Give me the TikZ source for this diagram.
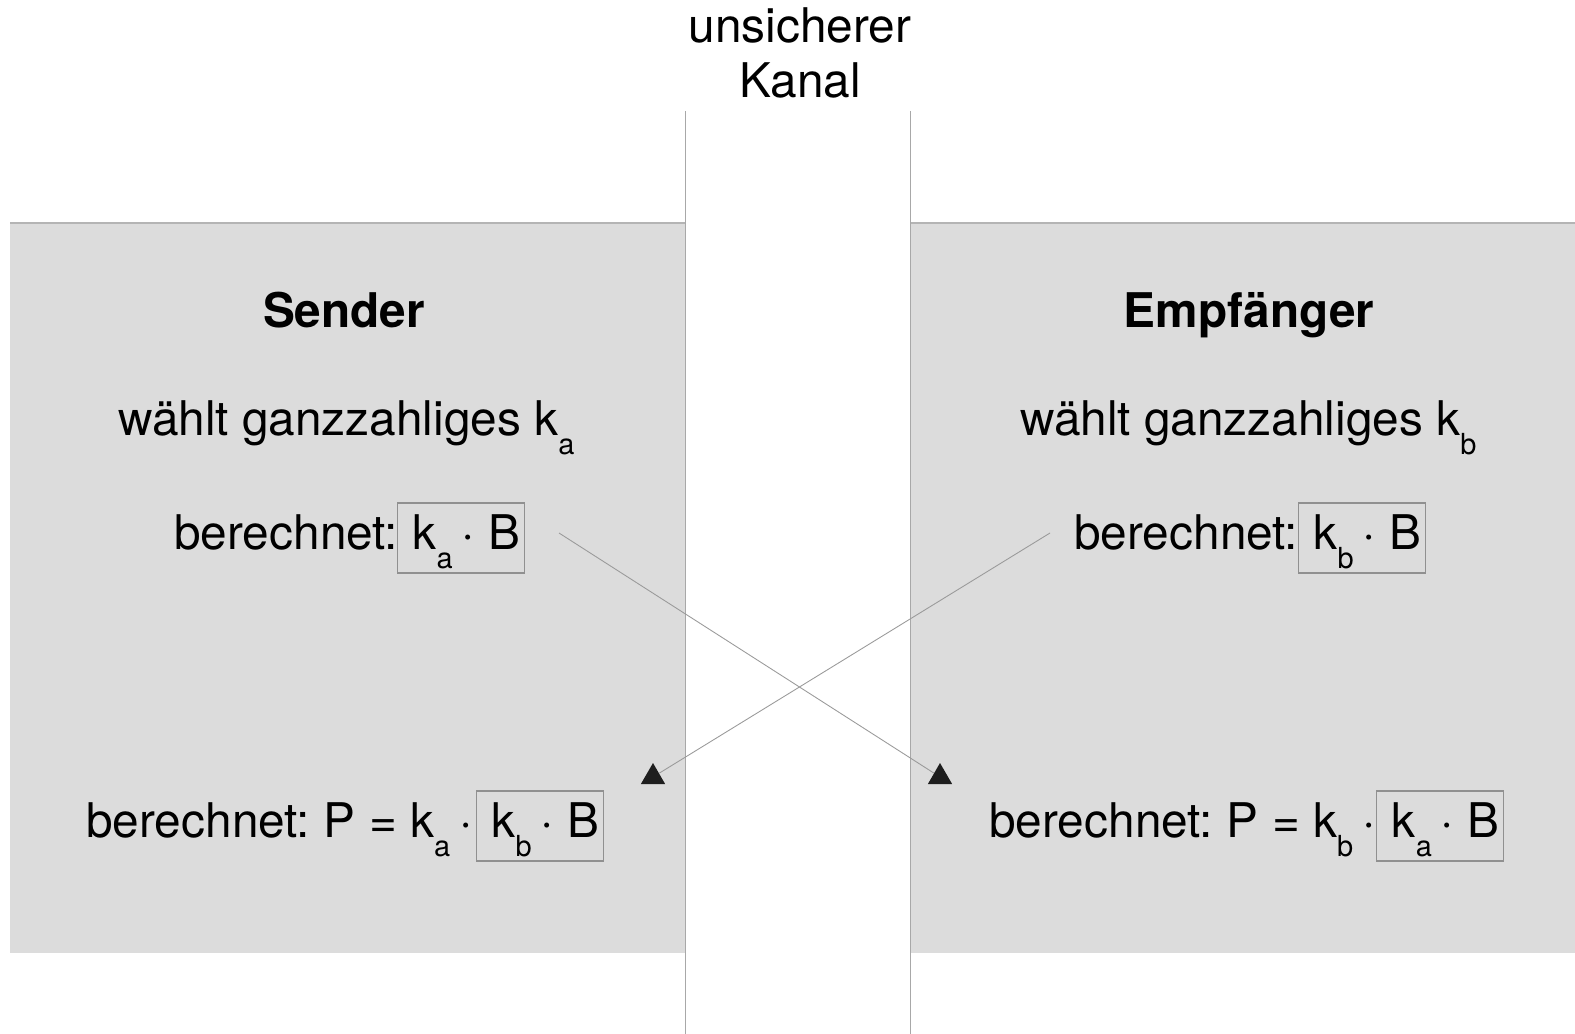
\documentclass[tikz,border=0pt]{standalone}
\usepackage{fontspec}
\setmainfont{TeX Gyre Heros}
\usepackage{tikz}
\usetikzlibrary{shapes,positioning}

\definecolor{panelgray}{HTML}{DCDCDC}
\definecolor{edgegray}{HTML}{B4B4B4}
\definecolor{changray}{HTML}{A8A8A8}
\definecolor{boxgray}{HTML}{909090}
\definecolor{wiregray}{HTML}{9A9A9A}
\definecolor{tipblack}{HTML}{1E1E1E}

\newcommand{\kidx}[1]{\raisebox{-11pt}{\fontsize{16.5}{16.5}\selectfont #1}\hspace{-2.5pt}}

\begin{document}
\begin{tikzpicture}[x=0.02cm, y=-0.02cm,
	txt/.style={font=\fontsize{27.2}{31}\selectfont, inner sep=0pt, anchor=base west},
	head/.style={font=\fontsize{27.2}{31}\selectfont\bfseries, inner sep=0pt, anchor=base},
	kbox/.style={txt, draw=boxgray, line width=0.6pt, minimum width=2.54cm,
		text height=0.92cm, text depth=0.48cm, execute at begin node=\hspace*{0.22cm}},
	tip/.style={regular polygon, regular polygon sides=3, fill=tipblack,
		minimum size=0.56cm, inner sep=0pt},
	wire/.style={draw=wiregray, line width=0.5pt}]
					\useasboundingbox (0,0) rectangle (1575,1034);
					% First we draw the two gray panels
					\foreach \xa/\xb in {10/685, 910/1575} {
						\fill[panelgray] (\xa,223) rectangle (\xb,953);
						\draw[edgegray, line width=1.2pt] (\xa,223) -- (\xb,223);
					}
					% The insecure channel
					\foreach \x in {685, 910}
						\draw[changray, line width=0.5pt] (\x,111) -- (\x,1034);
					\node[font=\fontsize{27.2}{31.2}\selectfont, align=center, inner sep=0pt,
						text depth=0pt, anchor=south] (kanal) at (800,98) {unsicherer\\Kanal};
					% Sender side
					\node[head] (sender) at (344,327) {Sender};
					\node[txt] (wa) at (118,435) {wählt ganzzahliges k\kidx{a}};
					\node[txt] (ca) at (174,549) {berechnet:};
					\node[kbox] (cab) at (397,549) {k\kidx{a} · B};
					\node[txt] (pa) at (86,837) {berechnet:\hspace{-2pt} P = k\kidx{a} ·};
					\node[kbox] (pab) at (476,837) {k\kidx{b} · B};
					% Receiver side
					\node[head] (empf) at (1249,327) {Empfänger};
					\node[txt] (wb) at (1020,435) {wählt ganzzahliges k\kidx{b}};
					\node[txt] (cb) at (1074,549) {berechnet:};
					\node[kbox] (cbb) at (1298,549) {k\kidx{b} · B};
					\node[txt] (pb) at (989,837) {berechnet:\hspace{-2pt} P = k\kidx{b} ·};
					\node[kbox] (pbb) at (1376,837) {k\kidx{a} · B};
					% Then the exchange across the channel
					\coordinate (sa) at (559,533);
					\coordinate (sb) at (1050,533);
					\node[tip] (ta) at (653,777) {};
					\node[tip] (tb) at (940,777) {};
					\foreach \source/\dest in {sa/tb, sb/ta}
						\path[wire] (\source) -- (\dest);
				\end{tikzpicture}
\end{document}
